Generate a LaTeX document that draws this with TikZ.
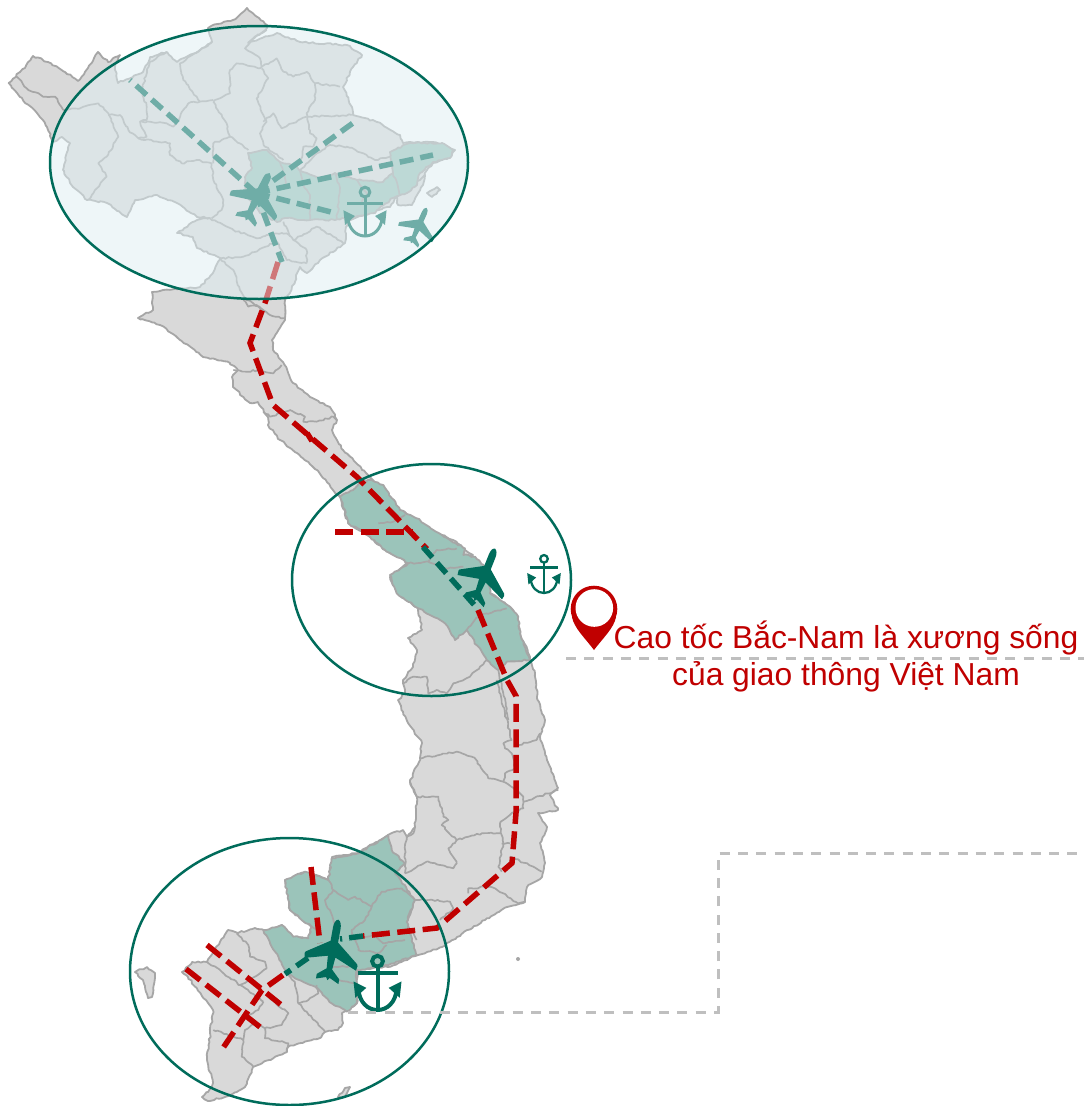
\documentclass[tikz,border=0pt]{standalone}
\usepackage{fontspec}
\setmainfont{Liberation Sans}
\usetikzlibrary{decorations.pathmorphing}
\definecolor{mapfill}{HTML}{D9D9D9}
\definecolor{mapline}{HTML}{A6A6A6}
\definecolor{hl}{HTML}{9BC4BA}
\definecolor{deep}{HTML}{006C5B}
\definecolor{redline}{HTML}{C00000}
\definecolor{veil}{HTML}{DFEFF3}
\definecolor{guide}{HTML}{BFBFBF}
\pgfmathsetseed{42}
\tikzset{
  wiggle/.style={decorate,decoration={random steps,segment length=3pt,amplitude=.9pt}},
  land/.style={fill=mapfill,draw=mapline,line width=1.8pt,line join=round,wiggle},
  zone/.style={fill=hl,draw=mapline,line width=1.8pt,line join=round,wiggle},
  border/.style={draw=mapline,line width=1.7pt,line join=round,wiggle},
  route/.style={draw=redline,line width=5.5pt,dash pattern=on 18pt off 7.5pt},
  link/.style={draw=deep,line width=5.5pt,dash pattern=on 14pt off 7pt},
  guideline/.style={draw=guide,line width=3pt,dash pattern=on 10pt off 8.3pt},
  ring/.style={draw=deep,line width=2.5pt},
  z1/.style={shift={(0,0)},x=.33333pt,y=-.33333pt},
  z2/.style={shift={(130,280)},x=.33333pt,y=-.33333pt},
  z3/.style={shift={(290,460)},x=.33333pt,y=-.33333pt},
  z4/.style={shift={(390,680)},x=.33333pt,y=-.33333pt},
  z5/.style={shift={(125,830)},x=.33333pt,y=-.33333pt},
  planeicon/.pic={
    \fill (0,-1) .. controls (.11,-.97) and (.15,-.85) .. (.15,-.7) -- (.15,-.25) -- (1.03,.3) -- (1.06,.36) -- (1.03,.52) -- (.15,.26)
      -- (.11,.68) -- (.45,.94) -- (.45,1.1) -- (.07,.97) -- (0,1.06) -- (-.07,.97) -- (-.45,1.1) -- (-.45,.94) -- (-.11,.68)
      -- (-.15,.26) -- (-1.03,.52) -- (-1.06,.36) -- (-1.03,.3) -- (-.15,-.25) -- (-.15,-.7) .. controls (-.15,-.85) and (-.11,-.97) .. (0,-1) -- cycle;
  },
  anchoricon/.pic={
    \draw (0,-2.44) circle[radius=.27];
    \draw (-1,-1.83) -- (1,-1.83);
    \draw (0,-2.17) -- (0,0);
    \draw (-.95,-1) .. controls (-.9,-.4) and (-.5,0) .. (0,0) .. controls (.5,0) and (.9,-.4) .. (.95,-1);
    \fill (-1.2,-1.43) -- (-.56,-1.11) -- (-1.11,-.61) -- cycle;
    \fill (1.2,-1.43) -- (.56,-1.11) -- (1.11,-.61) -- cycle;
  }
}
\begin{document}
\begin{tikzpicture}[x=1pt,y=-1pt]
\useasboundingbox (0,0) rectangle (1084,1106);
\fill[white] (0,0) rectangle (1084,1106);

% ---- country outline
\path[land] (8.7,83) -- (20,72) -- (25,68) -- (33,56) -- (48,62) -- (65,72) -- (78,81) -- (88,68) -- (98,52) -- (108,62) -- (120,55) -- (115,67) -- (118,83) -- (143,72) -- (150,57) -- (167,52) -- (177,62) -- (200,50) -- (212,42) -- (208,28) -- (213,25) -- (233,20) -- (247,8) -- (267,25) -- (267,28) -- (248,43) -- (277,33) -- (300,42) -- (347,45) -- (362,55) -- (353,67) -- (343,87) -- (352,107) -- (353,115) -- (377,122) -- (400,135) -- (403,143) -- (433,142) -- (455,150) -- (450,157) -- (433,163) -- (427,170) -- (417,187) -- (397,197) -- (390,207) -- (367,213) -- (347,222) -- (345,243) -- (320,260) -- (307,273) -- (300,267) -- (290,293) -- (285,300)
 -- (285,320) -- (272,340) -- (273,350) -- (283,362) -- (293,383) -- (310,397) -- (330,407) -- (337,420) -- (332,430) -- (343,450) -- (368,475) -- (397,507) -- (430,530) -- (453,540) -- (465,550) -- (473,555) -- (467,558) -- (490,593) -- (510,607) -- (518,617) -- (520,633) -- (530,657) -- (535,673) -- (537,697) -- (545,720) -- (540,737) -- (547,760) -- (558,788) -- (550,795) -- (558,810) -- (538,813) -- (547,827) -- (540,843) -- (545,863) -- (542,877) -- (527,887) -- (525,902) -- (507,907) -- (485,920) -- (457,937) -- (442,947) -- (418,955) -- (388,967) -- (357,970) -- (357,1003) -- (342,1013) -- (343,1023) -- (338,1030) -- (325,1032) -- (320,1038) -- (288,1047) -- (287,1052) -- (253,1067) -- (245,1087) -- (225,1097) -- (208,1101) -- (202,1097) -- (208,1092) -- (213,1083) -- (207,1060) -- (213,1010) -- (188,977) -- (182,972) -- (192,962) -- (207,962) -- (228,930) -- (238,933) -- (255,928) -- (268,932) -- (282,925) -- (293,937) -- (308,938) -- (312,927) -- (290,910) -- (288,890) -- (285,880) -- (305,872) -- (328,880) -- (332,857) -- (358,853) -- (388,835) -- (403,830) -- (407,837) -- (415,827) -- (417,797) -- (410,782) -- (420,758) -- (422,743) -- (408,723) -- (398,700) -- (405,693) -- (403,680) -- (413,667) -- (417,650) -- (408,638) -- (422,630) -- (418,608) -- (397,593) -- (390,577) -- (408,563) -- (385,550) -- (370,537) -- (348,523) -- (340,497) -- (333,490) -- (317,470) -- (297,453) -- (280,440) -- (268,425) -- (268,417) -- (258,402) -- (250,403) -- (233,387) -- (232,377) -- (238,370) -- (230,363) -- (203,357) -- (180,340) -- (160,325) -- (138,318) -- (153,310) -- (152,292) -- (163,290) -- (200,287) -- (213,273) -- (220,258) -- (197,248) -- (193,237) -- (177,233) -- (197,220) -- (210,218) -- (197,217) -- (177,203) -- (157,195) -- (135,200) -- (127,217) -- (107,203) -- (87,200) -- (73,187) -- (63,170) -- (70,143) -- (62,137) -- (53,142) -- (47,127) -- (37,113) -- (20,97) -- cycle;

% ---- islands
\path[land] (135,972) -- (147,967) -- (155,973) -- (152,997) -- (148,998) -- (143,980) -- cycle;
\path[land] (338,1097) -- (345,1088) -- (350,1087) -- (345,1097) -- cycle;
\fill[mapline] (518,959) circle[radius=2];
\path[land] (427,193) -- (437,187) -- (440,190) -- (432,197) -- cycle;
\path[land] (397,197) -- (420,180) -- (425,175) -- (423,185) -- (412,205) -- (398,205) -- cycle;

% ---- north highlighted
\path[zone] (248,153) -- (267,150) -- (280,162) -- (292,165) -- (303,172) -- (320,178) -- (335,173) -- (357,180) -- (383,182) -- (393,173) -- (390,152) -- (410,143) -- (442,143) -- (453,150) -- (450,158) -- (433,162) -- (420,173) -- (417,185) -- (407,193) -- (393,198) -- (377,210) -- (375,213) -- (335,220) -- (310,220) -- (285,218) -- (277,222) -- (260,213) -- (245,195) -- (245,177) -- (252,168) -- cycle;
\path[border] (280,162) -- (283,172) -- (287,187);
\path[border] (300,170) -- (303,185) -- (310,195) -- (310,220);
\path[border] (335,173) -- (340,188) -- (337,220);
\path[border] (357,180) -- (367,193) -- (360,205);
\path[border] (393,173) -- (400,195);
\begin{scope}[z1]
% north provinces
\path[border] (50,230) -- (80,265) -- (135,290) -- (165,290) -- (190,330);
\path[border] (190,330) -- (240,325) -- (295,310) -- (325,340) -- (355,410) -- (320,470) -- (295,490) -- (320,530) -- (285,570) -- (265,600);
\path[border] (325,345) -- (360,345) -- (385,390) -- (415,415) -- (440,410) -- (420,365) -- (440,360) -- (440,320) -- (425,270) -- (450,185) -- (500,155);
\path[border] (415,415) -- (510,430) -- (510,465) -- (545,490) -- (590,480) -- (635,490) -- (640,540) -- (670,600) -- (665,630) -- (635,655);
\path[border] (425,365) -- (500,370) -- (520,380) -- (565,310) -- (600,305) -- (640,300);
\path[border] (600,305) -- (580,280) -- (550,240) -- (540,190) -- (600,150) -- (635,125);
\path[border] (640,305) -- (690,280) -- (690,210) -- (710,190) -- (780,205) -- (830,175) -- (850,215) -- (880,230) -- (920,215) -- (945,250) -- (945,300) -- (920,340) -- (930,400) -- (950,415) -- (940,440);
\path[border] (785,205) -- (805,235) -- (770,295) -- (790,345) -- (800,365) -- (780,400) -- (795,440) -- (850,480);
\path[border] (640,305) -- (680,370) -- (690,410) -- (640,430) -- (640,490);
\path[border] (690,410) -- (745,450);
\path[border] (900,490) -- (910,440) -- (940,440);
\path[border] (790,365) -- (820,340) -- (845,385) -- (920,350);
\path[border] (945,250) -- (1020,260);
\path[border] (920,350) -- (1055,345);
\path[border] (900,510) -- (945,465) -- (990,435) -- (1040,440) -- (1090,460) -- (1125,480) -- (1170,470);
\path[border] (785,200) -- (780,175) -- (735,145) -- (760,115) -- (800,90);
\path[border] (630,655) -- (700,690) -- (770,715) -- (800,705) -- (860,700) -- (880,720) -- (920,750) -- (920,790);
\path[border] (850,665) -- (870,710);
\path[border] (880,720) -- (950,680) -- (1000,710) -- (1030,730);
\path[border] (660,775) -- (730,770) -- (830,725) -- (860,780) -- (920,790);
\path[border] (660,775) -- (700,810) -- (720,870) -- (740,900) -- (760,910) -- (790,930);
\end{scope}

% ---- north-central provinces
\begin{scope}[z2]
\path[border] (340,60) -- (355,80) -- (380,75) -- (420,105) -- (465,115);
\path[border] (310,270) -- (350,275) -- (385,270) -- (430,280) -- (455,255);
\path[border] (400,395) -- (420,410) -- (450,400) -- (480,390) -- (525,410) -- (520,425) -- (560,425) -- (610,410) -- (620,420);
\end{scope}

% ---- central highlighted
\begin{scope}[z3]
\path[zone] (150,110) -- (195,85) -- (210,65) -- (245,60) -- (280,75) -- (330,150) -- (380,175) -- (430,210) -- (480,240) -- (525,265) -- (520,285) -- (555,290) -- (590,330) -- (600,400) -- (660,440) -- (685,470) -- (690,520) -- (720,600) -- (650,605) -- (625,630) -- (590,600) -- (530,510) -- (495,540) -- (465,490) -- (385,445) -- (320,400) -- (300,345) -- (355,310) -- (285,270) -- (240,230) -- (175,190) -- cycle;
\path[border] (265,190) -- (310,185) -- (345,165);
\path[border] (355,310) -- (415,305) -- (440,270) -- (500,265);
\path[border] (415,305) -- (465,325) -- (520,320);
\path[border] (530,510) -- (570,465) -- (650,445);
\path[border] (625,630) -- (640,700) -- (655,780);
\path[border] (590,600) -- (570,620) -- (540,650) -- (490,670) -- (470,700) -- (440,690) -- (415,700) -- (410,650) -- (370,650) -- (340,670);
\end{scope}

% ---- south-central provinces
\begin{scope}[z4]
\path[border] (320,0) -- (345,100) -- (365,180) -- (340,190) -- (345,205) -- (365,220) -- (375,265) -- (345,280) -- (340,305) -- (385,335) -- (400,350) -- (400,385) -- (375,395) -- (340,420) -- (330,430) -- (340,490) -- (325,560) -- (335,575);
\path[border] (90,235) -- (200,215) -- (255,235) -- (295,295) -- (340,305);
\path[border] (385,195) -- (440,180) -- (450,160);
\path[border] (400,365) -- (505,330);
\path[border] (60,305) -- (80,350) -- (145,350) -- (160,410) -- (175,420) -- (155,435) -- (200,480) -- (275,460) -- (330,460);
\path[border] (200,480) -- (175,505) -- (200,550) -- (190,565) -- (150,555) -- (110,545) -- (45,580);
\path[border] (335,490) -- (360,490);
\path[border] (360,530) -- (430,560) -- (455,575);
\path[border] (235,640) -- (235,625) -- (300,620) -- (340,640) -- (385,670) -- (405,665);
\path[border] (115,660) -- (180,665) -- (190,685) -- (150,720);
\path[border] (115,660) -- (75,660) -- (50,730) -- (80,780);
\path[border] (75,440) -- (70,460) -- (50,470) -- (45,520) -- (45,580);
\end{scope}

% ---- south highlighted and delta
\begin{scope}[z5]
\path[zone] (480,150) -- (540,125) -- (610,150) -- (620,85) -- (700,70) -- (790,15) -- (800,60) -- (840,100) -- (810,130) -- (870,210) -- (845,275) -- (875,375) -- (790,405) -- (695,420) -- (695,520) -- (665,545) -- (620,520) -- (570,470) -- (510,445) -- (480,420) -- (415,300) -- (470,285) -- (505,320) -- (550,325) -- (560,290) -- (495,240) -- cycle;
\path[border] (610,150) -- (625,180) -- (600,210) -- (625,270) -- (635,290);
\path[border] (625,180) -- (670,210) -- (690,200) -- (740,230) -- (770,185) -- (830,175) -- (870,210);
\path[border] (740,230) -- (720,270) -- (680,300) -- (690,330) -- (745,315) -- (775,340) -- (840,330);
\path[border] (690,330) -- (700,360) -- (760,370) -- (785,345);
\path[border] (560,290) -- (585,300);
\path[border] (560,380) -- (610,370);
\path[border] (610,410) -- (690,410);
\path[border] (640,450) -- (695,460);
\path[border] (335,310) -- (370,345) -- (375,380) -- (420,395) -- (425,415) -- (390,440) -- (345,465) -- (380,490) -- (415,515);
\path[border] (245,395) -- (290,425) -- (345,465);
\path[border] (480,420) -- (510,460) -- (520,520) -- (600,605);
\path[border] (520,520) -- (550,510) -- (580,490) -- (575,465);
\path[border] (430,500) -- (490,550) -- (470,585) -- (420,595) -- (390,575);
\path[border] (420,595) -- (420,625) -- (490,640) -- (485,665);
\path[border] (390,575) -- (360,600) -- (355,630) -- (265,600);
\path[border] (355,630) -- (350,680) -- (385,710);
\path[border] (415,515) -- (400,540) -- (365,560) -- (390,575);
\end{scope}

% ---- expressway and branches
\draw[route] (278,262) -- (265,303) -- (250,343) -- (273,405) -- (357,477) -- (427,549);
\draw[route] (307,433) -- (312,441);
\draw[route] (335,532) -- (413,532);
\draw[link] (423,547) -- (477,608);
\draw[route] (478,610) -- (507,680) -- (516,696) -- (516,780) -- (516,813) -- (512,863) -- (437,928) -- (363,936);
\draw[link] (363,936) -- (340,939);
\draw[route] (311,867) -- (320,943);
\draw[link] (308,958) -- (285,974);
\draw[route] (283,975) -- (262,990) -- (223,1048);
\draw[route] (207,945) -- (285,1008);
\draw[route] (186,969) -- (260,1027);

% ---- northern links
\draw[link] (256,193) -- (130,80);
\draw[link] (256,193) -- (353,123);
\draw[link] (256,193) -- (433,155);
\draw[link] (256,193) -- (335,213);
\draw[link] (256,193) -- (282,262);

% ---- icons
\pic[color=deep,scale=26,xscale=.95,rotate=-28] at (258,196) {planeicon};
\pic[color=deep,scale=19,xscale=.95,rotate=-25] at (419,225) {planeicon};
\pic[color=deep,scale=28,xscale=.85,rotate=-25] at (485,574) {planeicon};
\pic[color=deep,scale=30,xscale=.85,rotate=-12] at (333,949) {planeicon};
\pic[color=deep,scale=18,line width=3pt] at (365,236) {anchoricon};
\pic[color=deep,scale=14,line width=2.3pt] at (544,593) {anchoricon};
\pic[color=deep,scale=20,line width=4pt] at (377.5,1010) {anchoricon};

% ---- circles
\fill[veil,fill opacity=.5] (259,162.5) ellipse[x radius=209,y radius=136.5];
\draw[ring] (259,162.5) ellipse[x radius=209,y radius=136.5];
\draw[ring] (431.5,580) ellipse[x radius=139.5,y radius=116];
\draw[ring] (289.5,971.5) ellipse[x radius=159.5,y radius=133.5];

% ---- guides
\draw[guideline] (566,658) -- (1084,658);
\draw[guideline] (348,1012) -- (718,1012) -- (718,853) -- (1084,853);

% ---- pin
\fill[redline] (594,609) circle[radius=23.3];
\fill[redline] (594,650) .. controls (585,638) and (574,628) .. (572,617) -- (616,617) .. controls (614,628) and (603,638) .. (594,650) -- cycle;
\fill[white] (594.3,608) circle[radius=18.8];

% ---- caption
\node[text=redline,font=\fontsize{31.8}{37.5}\selectfont,align=center,anchor=base] (cap) at (846,685.5) {Cao tốc Bắc-Nam là xương sống\\của giao thông Việt Nam};
\end{tikzpicture}
\end{document}
